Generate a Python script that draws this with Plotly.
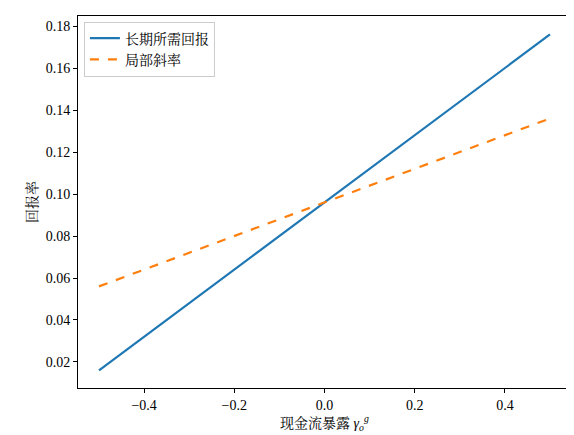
import plotly.graph_objects as go

x_vals = [-0.5, 0.5]
long_run = [0.016, 0.176]
local_slope = [0.056, 0.136]

font = "Liberation Serif, Noto Serif CJK SC, Noto Sans CJK SC, serif"

fig = go.Figure()
fig.add_trace(go.Scatter(x=x_vals, y=long_run, mode="lines", name="长期所需回报",
                         line=dict(color="#1f77b4", width=2.2)))
fig.add_trace(go.Scatter(x=x_vals, y=local_slope, mode="lines", name="局部斜率",
                         line=dict(color="#ff7f0e", width=2.2, dash="dash")))

axis_style = dict(showgrid=False, zeroline=False, showline=True, mirror=True,
                  linecolor="black", linewidth=1, ticks="outside", ticklen=4,
                  tickcolor="black", automargin=False,
                  tickfont=dict(family=font, size=14, color="black"))

fig.update_layout(
    width=574, height=435,
    margin=dict(l=70, r=11, t=8, b=55),
    plot_bgcolor="white", paper_bgcolor="white",
    font=dict(family=font, size=14, color="black"),
    xaxis=dict(range=[-0.5466, 0.5466], tickvals=[-0.4, -0.2, 0, 0.2, 0.4],
               ticktext=["−0.4", "−0.2", "0.0", "0.2", "0.4"],
               title=dict(text="现金流暴露 <i>γ</i><sub><i>o</i></sub><sup><i>g</i></sup>",
                          standoff=4, font=dict(family=font, size=14)),
               **axis_style),
    yaxis=dict(range=[0.0076, 0.1848], dtick=0.02, tickformat=".2f",
               title=dict(text="回报率", standoff=4, font=dict(family=font, size=14)),
               **axis_style),
    legend=dict(x=0.012, y=0.985, xanchor="left", yanchor="top",
                bordercolor="#cccccc", borderwidth=1, bgcolor="white",
                font=dict(family=font, size=14)),
)

fig.write_html("out.html")
